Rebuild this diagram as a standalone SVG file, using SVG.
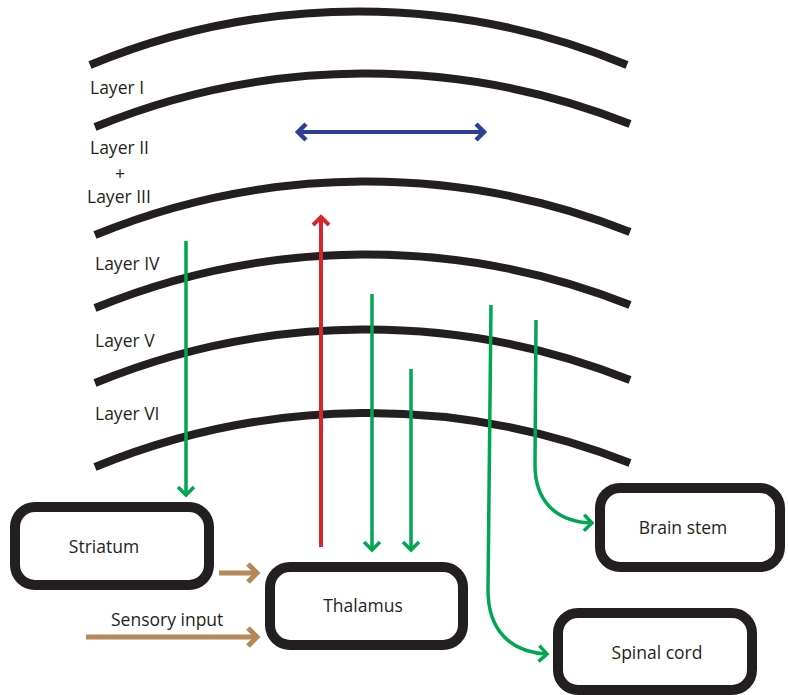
<svg xmlns="http://www.w3.org/2000/svg" width="788" height="695" viewBox="0 0 788 695">
  <style>
    .layer { fill: none; stroke: #231f20; stroke-width: 8; }
    .box { fill: #ffffff; stroke: #231f20; stroke-width: 10; }
    .lbl { font-family: "Open Sans", "Liberation Sans", sans-serif; font-size: 17.5px; fill: #231f20; }
    .mid { text-anchor: middle; }
    .green { fill: none; stroke: #00a651; stroke-width: 3.5; }
    .red { fill: none; stroke: #d7262f; stroke-width: 4; }
    .blue { fill: none; stroke: #2b3f98; stroke-width: 4; }
    .brown { fill: none; stroke: #b5875a; stroke-width: 5; }
  </style>
  <defs>
    <marker id="headGreen" markerUnits="userSpaceOnUse" markerWidth="24" markerHeight="24" viewBox="-12 -12 24 24" refX="0" refY="0" orient="auto" overflow="visible">
      <path d="M-8,-8 L0,0 L-8,8" fill="none" stroke="#00a651" stroke-width="3.5"/>
    </marker>
    <marker id="headRed" markerUnits="userSpaceOnUse" markerWidth="24" markerHeight="24" viewBox="-12 -12 24 24" refX="0" refY="0" orient="auto" overflow="visible">
      <path d="M-8,-8 L0,0 L-8,8" fill="none" stroke="#d7262f" stroke-width="4"/>
    </marker>
    <marker id="headBlue" markerUnits="userSpaceOnUse" markerWidth="24" markerHeight="24" viewBox="-12 -12 24 24" refX="0" refY="0" orient="auto-start-reverse" overflow="visible">
      <path d="M-8,-8 L0,0 L-8,8" fill="none" stroke="#2b3f98" stroke-width="4.5"/>
    </marker>
    <marker id="headBrown" markerUnits="userSpaceOnUse" markerWidth="24" markerHeight="24" viewBox="-12 -12 24 24" refX="0" refY="0" orient="auto" overflow="visible">
      <path d="M-9,-9 L0,0 L-9,9" fill="none" stroke="#b5875a" stroke-width="5"/>
    </marker>
  </defs>

  <!-- cortical layer boundaries -->
  <g id="layers">
    <path class="layer" d="M90,65 A700,700 0 0 1 627,65"/>
    <path class="layer" d="M95,127 A714,714 0 0 1 630,124"/>
    <path class="layer" d="M95,235 A714,714 0 0 1 630,232"/>
    <path class="layer" d="M95,308 A714,714 0 0 1 630,305"/>
    <path class="layer" d="M95,383 A714,714 0 0 1 630,380"/>
    <path class="layer" d="M95,467 A714,714 0 0 1 630,463"/>
  </g>

  <g id="layer-labels">
    <text class="lbl" x="90" y="94">Layer I</text>
    <text class="lbl" x="90" y="154">Layer II</text>
    <text class="lbl mid" x="120" y="180">+</text>
    <text class="lbl" x="87" y="203">Layer III</text>
    <text class="lbl" x="95" y="270">Layer IV</text>
    <text class="lbl" x="95" y="347">Layer V</text>
    <text class="lbl" x="95" y="420">Layer VI</text>
  </g>

  <!-- projections -->
  <g id="connectors">
    <path class="blue" d="M298,132 L484,132" marker-start="url(#headBlue)" marker-end="url(#headBlue)"/>
    <path class="red" d="M321,547 L321,217" marker-end="url(#headRed)"/>
    <path class="green" d="M186,241 L186,495" marker-end="url(#headGreen)"/>
    <path class="green" d="M372,294 L372,550" marker-end="url(#headGreen)"/>
    <path class="green" d="M411,369 L411,550" marker-end="url(#headGreen)"/>
    <path class="green" d="M491,305 L488,590 C488,630 510,652 547,654" marker-end="url(#headGreen)"/>
    <path class="green" d="M536,320 L535,465 C535,500 555,522 592,523" marker-end="url(#headGreen)"/>
    <path class="brown" d="M219,573 L257,573" marker-end="url(#headBrown)"/>
    <path class="brown" d="M86,637 L257,637" marker-end="url(#headBrown)"/>
    <text class="lbl" x="111" y="626">Sensory input</text>
  </g>

  <g id="striatum">
    <rect class="box" x="15" y="507" width="194" height="78" rx="20" ry="20"/>
    <text class="lbl mid" x="104" y="553">Striatum</text>
  </g>
  <g id="thalamus">
    <rect class="box" x="270" y="567" width="193" height="78" rx="20" ry="20"/>
    <text class="lbl mid" x="363" y="612">Thalamus</text>
  </g>
  <g id="brain-stem">
    <rect class="box" x="600" y="488" width="180" height="79" rx="20" ry="20"/>
    <text class="lbl mid" x="683" y="534">Brain stem</text>
  </g>
  <g id="spinal-cord">
    <rect class="box" x="558" y="613" width="194" height="77" rx="20" ry="20"/>
    <text class="lbl mid" x="657" y="659">Spinal cord</text>
  </g>
</svg>
